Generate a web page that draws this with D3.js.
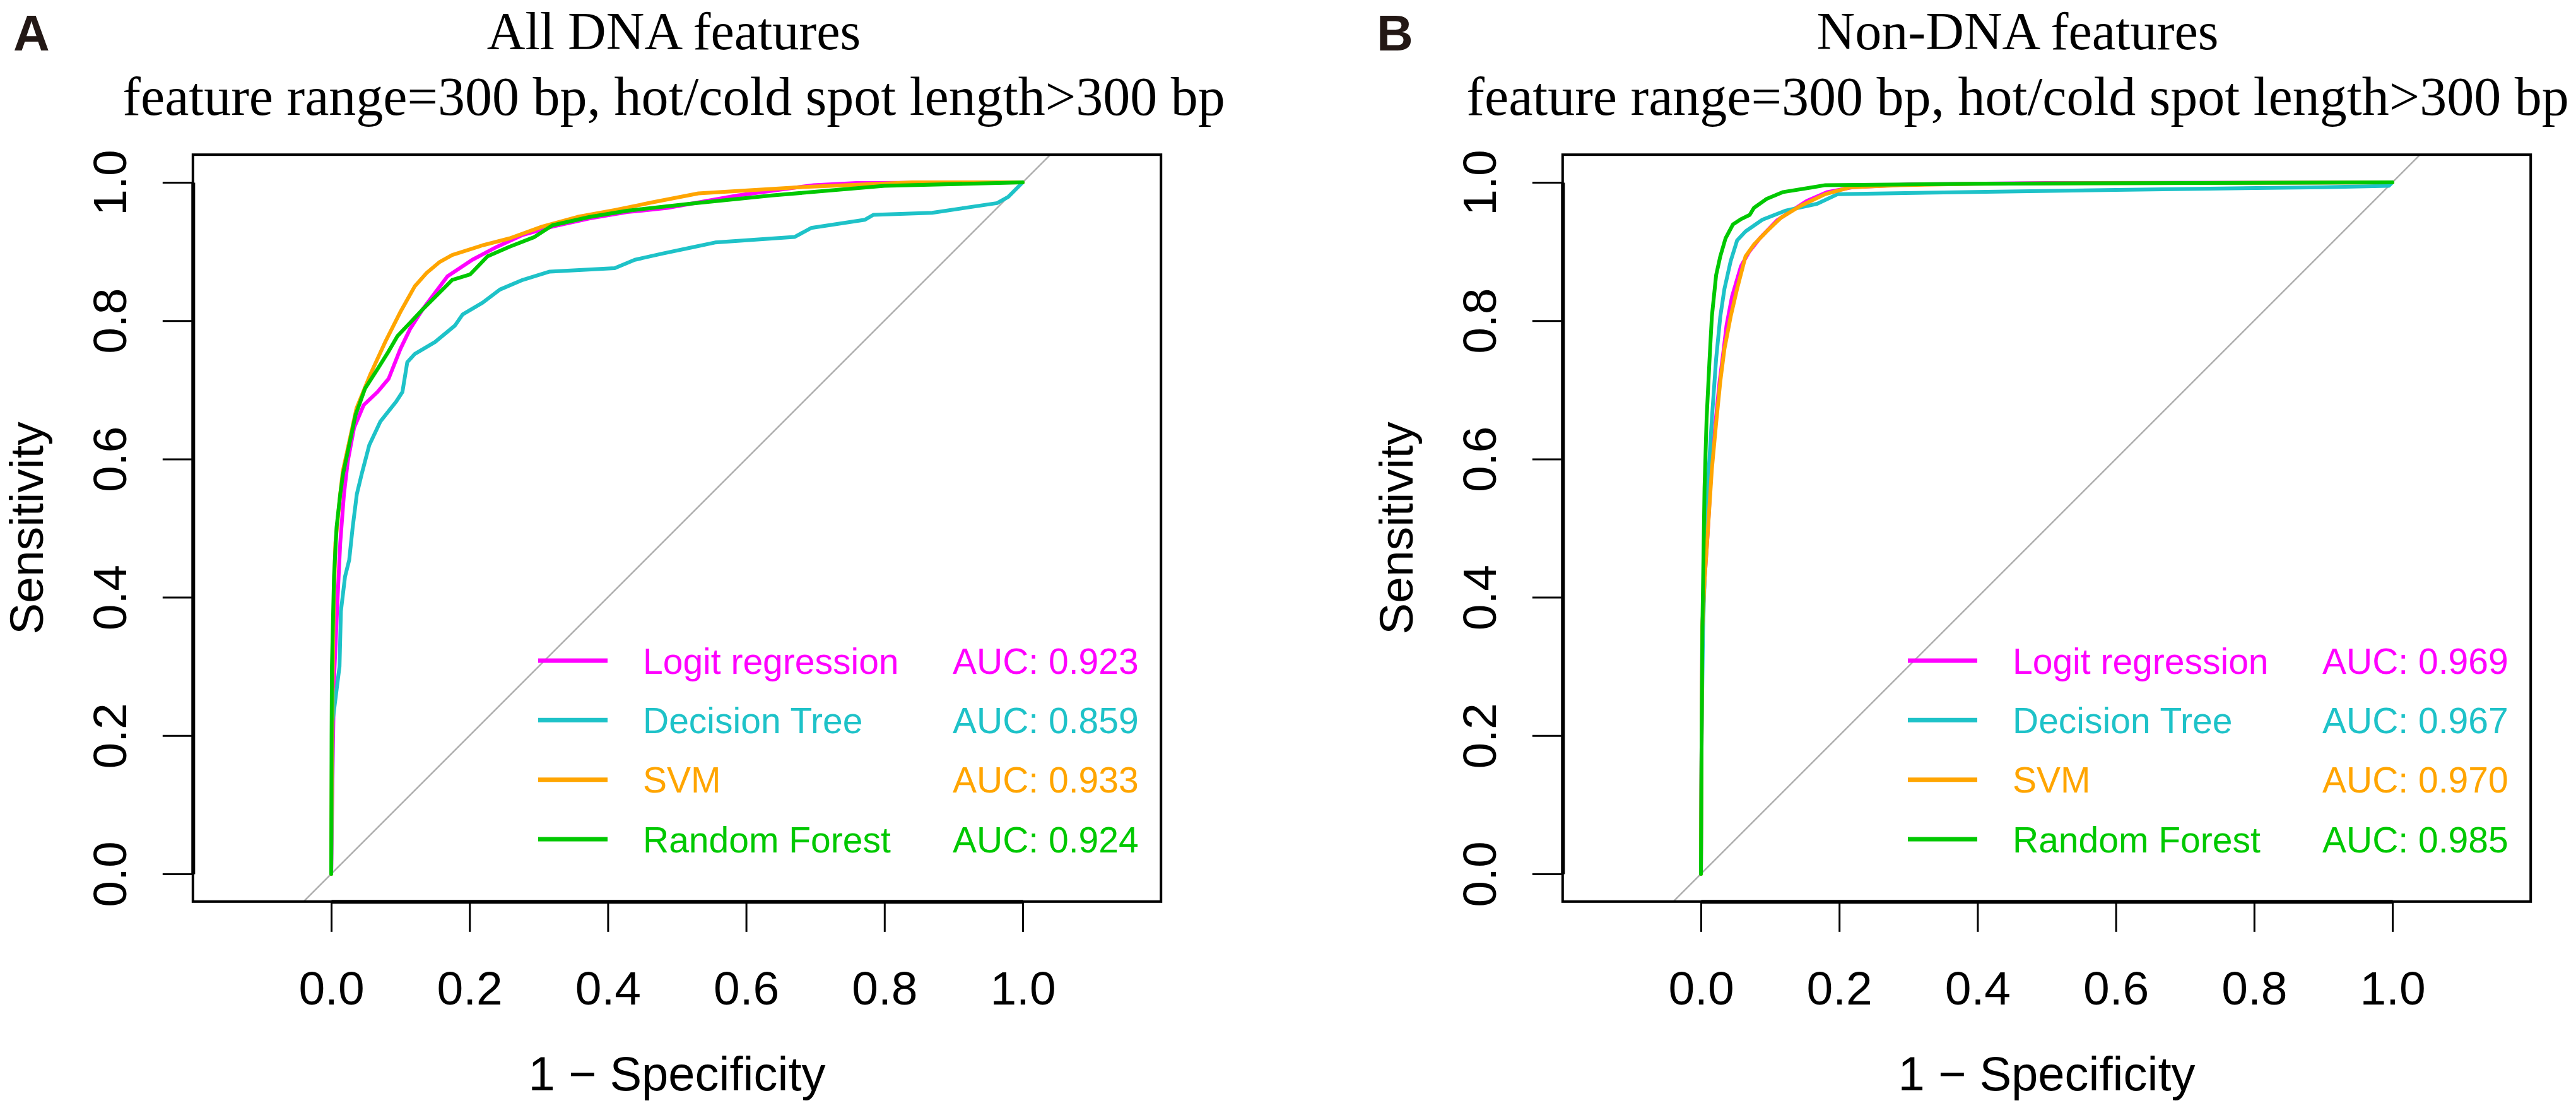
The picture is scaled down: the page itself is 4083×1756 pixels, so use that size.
<!DOCTYPE html>
<html>
<head>
<meta charset="utf-8">
<script src="https://cdn.jsdelivr.net/npm/d3@7"></script>
<style>
  html, body { margin: 0; padding: 0; background: #fff; }
  svg { display: block; }
</style>
</head>
<body>
<svg id="chart" width="4083" height="1756"></svg>
<script>
// ---------------- data ----------------
const panelLetters = ["A", "B"];
const titlesLine1 = ["All DNA features", "Non-DNA features"];
const titleLine2 = "feature range=300 bp, hot/cold spot length>300 bp";
const modelNames = ["Logit regression", "Decision Tree", "SVM", "Random Forest"];
const modelColors = ["#FF00FF", "#1EC2C8", "#FFA500", "#00C800"];
const aucA = ["0.923", "0.859", "0.933", "0.924"];
const aucB = ["0.969", "0.967", "0.970", "0.985"];
const xTicks = [0, 0.2, 0.4, 0.6, 0.8, 1.0];
const yTicks = [0, 0.2, 0.4, 0.6, 0.8, 1.0];

// Panel A ROC curves: [1 - specificity, sensitivity]
const dnaLogit = [[0,0],[0.002,0.15],[0.004,0.28],[0.0095,0.405],[0.013,0.478],[0.0184,0.549],[0.024,0.597],[0.033,0.645],[0.047,0.678],[0.067,0.697],[0.083,0.716],[0.100,0.759],[0.114,0.788],[0.132,0.816],[0.168,0.864],[0.204,0.888],[0.240,0.907],[0.277,0.924],[0.320,0.936],[0.374,0.948],[0.428,0.957],[0.486,0.963],[0.588,0.981],[0.698,0.996],[0.76,0.999],[1,1]];
const dnaTree = [[0,0],[0.002,0.22],[0.012,0.30],[0.014,0.38],[0.020,0.43],[0.026,0.454],[0.031,0.501],[0.037,0.549],[0.044,0.578],[0.055,0.620],[0.071,0.654],[0.094,0.683],[0.103,0.697],[0.110,0.740],[0.121,0.752],[0.150,0.769],[0.179,0.793],[0.190,0.809],[0.219,0.826],[0.244,0.845],[0.277,0.859],[0.316,0.871],[0.410,0.876],[0.439,0.888],[0.479,0.897],[0.522,0.906],[0.555,0.913],[0.670,0.921],[0.694,0.934],[0.772,0.946],[0.784,0.953],[0.869,0.956],[0.963,0.970],[0.979,0.979],[1,1]];
const dnaSvm = [[0,0],[0.001,0.18],[0.002,0.28],[0.004,0.40],[0.006,0.478],[0.013,0.549],[0.0167,0.582],[0.0365,0.673],[0.056,0.721],[0.078,0.769],[0.0997,0.812],[0.121,0.850],[0.138,0.869],[0.157,0.885],[0.175,0.895],[0.219,0.909],[0.258,0.919],[0.305,0.936],[0.356,0.950],[0.410,0.960],[0.464,0.971],[0.531,0.984],[0.677,0.993],[0.84,1.0],[1,1]];
const dnaForest = [[0,0],[0.0005,0.2],[0.001,0.3],[0.004,0.430],[0.0077,0.501],[0.013,0.549],[0.017,0.578],[0.035,0.663],[0.049,0.702],[0.067,0.730],[0.082,0.754],[0.096,0.778],[0.114,0.797],[0.132,0.816],[0.154,0.838],[0.175,0.859],[0.201,0.867],[0.226,0.893],[0.258,0.907],[0.294,0.921],[0.320,0.938],[0.374,0.950],[0.428,0.959],[0.518,0.969],[0.637,0.981],[0.80,0.995],[1,1]];

// Panel B ROC curves
const nonLogit = [[0,0],[0.001,0.2],[0.002,0.357],[0.0052,0.424],[0.0097,0.491],[0.015,0.585],[0.021,0.652],[0.027,0.712],[0.033,0.759],[0.037,0.793],[0.045,0.835],[0.058,0.879],[0.070,0.900],[0.085,0.919],[0.110,0.945],[0.153,0.973],[0.183,0.986],[0.220,0.993],[0.300,0.997],[0.500,0.999],[1,1]];
const nonTree = [[0,0],[0.001,0.2],[0.003,0.35],[0.0052,0.424],[0.0097,0.558],[0.0158,0.658],[0.022,0.745],[0.028,0.806],[0.034,0.846],[0.043,0.886],[0.0523,0.916],[0.0645,0.929],[0.0888,0.946],[0.122,0.959],[0.168,0.969],[0.198,0.983],[0.396,0.986],[0.600,0.989],[0.900,0.993],[0.995,0.995],[1,1]];
const nonSvm = [[0,0],[0.001,0.2],[0.002,0.357],[0.0052,0.424],[0.0097,0.491],[0.0158,0.585],[0.022,0.652],[0.028,0.712],[0.034,0.759],[0.043,0.806],[0.0523,0.846],[0.0645,0.893],[0.0766,0.910],[0.0949,0.929],[0.116,0.949],[0.144,0.966],[0.180,0.983],[0.217,0.993],[0.289,0.996],[0.396,0.998],[1,1]];
const nonForest = [[0,0],[0.001,0.2],[0.0021,0.357],[0.0052,0.558],[0.0082,0.658],[0.0122,0.739],[0.0158,0.806],[0.022,0.866],[0.028,0.893],[0.0356,0.919],[0.0462,0.939],[0.0584,0.947],[0.0706,0.953],[0.0766,0.963],[0.0949,0.976],[0.119,0.986],[0.162,0.993],[0.180,0.996],[0.396,0.998],[1,1]];

// ---------------- drawing ----------------
const svg = d3.select("#chart");
svg.append("rect").attr("width", 4083).attr("height", 1756).attr("fill", "#fff");

const SANS = "'Liberation Sans', Arial, Helvetica, sans-serif";
const SERIF = "'Liberation Serif', 'Times New Roman', serif";

function drawPanel(idx, off, titleCx, series, aucs) {
  const g = svg.append("g");
  const x = d3.scaleLinear().domain([0, 1]).range([525 + off, 1621 + off]);
  const y = d3.scaleLinear().domain([0, 1]).range([1385, 289]);
  const bx0 = x(-0.2), bx1 = x(1.2), by0 = y(1.04), by1 = y(-0.04);
  const cx = (bx0 + bx1) / 2;

  // panel letter
  g.append("text").attr("x", 21 + off * 0.9954).attr("y", 80)
    .attr("font-family", SANS).attr("font-weight", "bold").attr("font-size", 80)
    .attr("fill", "#231815").text(panelLetters[idx]);

  // titles
  g.append("text").attr("x", titleCx).attr("y", 78).attr("text-anchor", "middle")
    .attr("font-family", SERIF).attr("font-size", 84).attr("fill", "#000").text(titlesLine1[idx]);
  g.append("text").attr("x", titleCx).attr("y", 182).attr("text-anchor", "middle")
    .attr("font-family", SERIF).attr("font-size", 86).attr("fill", "#000").text(titleLine2);

  // diagonal
  g.append("line")
    .attr("x1", x(-0.04)).attr("y1", y(-0.04)).attr("x2", x(1.04)).attr("y2", y(1.04))
    .attr("stroke", "#ADADAD").attr("stroke-width", 2.5);

  // curves
  const line = d3.line().x(d => x(d[0])).y(d => y(d[1]));
  series.forEach((s, i) => {
    g.append("path").datum(s).attr("d", line)
      .attr("fill", "none").attr("stroke", modelColors[i]).attr("stroke-width", 6)
      .attr("stroke-linejoin", "round").attr("stroke-linecap", "round");
  });

  // box
  g.append("rect").attr("x", bx0).attr("y", by0).attr("width", bx1 - bx0).attr("height", by1 - by0)
    .attr("fill", "none").attr("stroke", "#000").attr("stroke-width", 4);

  // x axis
  const xa = g.append("g").attr("transform", `translate(0,${by1})`)
    .call(d3.axisBottom(x).tickValues(xTicks).tickSize(48).tickSizeOuter(0).tickPadding(62)
      .tickFormat(d3.format(".1f")));
  xa.attr("font-family", SANS).attr("font-size", 75);
  xa.select(".domain").attr("stroke-width", 6);
  xa.selectAll(".tick line").attr("stroke-width", 3);
  xa.selectAll(".tick text").attr("fill", "#000");

  // y axis
  const ya = g.append("g").attr("transform", `translate(${bx0},0)`)
    .call(d3.axisLeft(y).tickValues(yTicks).tickSize(48).tickSizeOuter(0)
      .tickFormat(d3.format(".1f")));
  ya.attr("font-family", SANS).attr("font-size", 75);
  ya.select(".domain").attr("stroke-width", 6);
  ya.selectAll(".tick line").attr("stroke-width", 3);
  ya.selectAll(".tick text").attr("fill", "#000")
    .attr("x", 0).attr("dy", 0).attr("text-anchor", "middle")
    .attr("transform", "translate(-106,0) rotate(-90)");

  // axis titles
  g.append("text").attr("x", cx).attr("y", 1728).attr("text-anchor", "middle")
    .attr("font-family", SANS).attr("font-size", 76).attr("fill", "#000").text("1 \u2212 Specificity");
  g.append("text").attr("transform", `translate(${68 + off},${(by0 + by1) / 2}) rotate(-90)`)
    .attr("text-anchor", "middle").attr("font-family", SANS).attr("font-size", 75)
    .attr("fill", "#000").text("Sensitivity");

  // legend
  const rowY = d3.scaleLinear().domain([0, 3]).range([1047, 1330]);
  modelNames.forEach((name, i) => {
    const ly = rowY(i);
    g.append("line").attr("x1", 853 + off).attr("x2", 963 + off).attr("y1", ly).attr("y2", ly)
      .attr("stroke", modelColors[i]).attr("stroke-width", 7);
    g.append("text").attr("x", 1019 + off).attr("y", ly).attr("dy", "0.36em")
      .attr("font-family", SANS).attr("font-size", 57).attr("fill", modelColors[i]).text(name);
    g.append("text").attr("x", 1510 + off).attr("y", ly).attr("dy", "0.36em")
      .attr("font-family", SANS).attr("font-size", 57).attr("fill", modelColors[i]).text("AUC: " + aucs[i]);
  });
}

drawPanel(0, 0, 1068, [dnaLogit, dnaTree, dnaSvm, dnaForest], aucA);
drawPanel(1, 2171, 3198, [nonLogit, nonTree, nonSvm, nonForest], aucB);
</script>
</body>
</html>
